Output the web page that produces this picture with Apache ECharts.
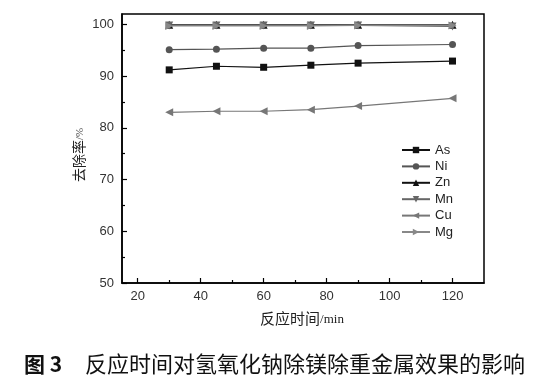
<!DOCTYPE html>
<html>
<head>
<meta charset="utf-8">
<script src="https://cdn.jsdelivr.net/npm/echarts@6/dist/echarts.min.js"></script>
<style>
html,body{margin:0;padding:0;background:#fff;}
#c{width:558px;height:381px;}
</style>
</head>
<body>
<div id="c"></div>
<script>
var times = [30, 45, 60, 75, 90, 120];
var seriesNames = ['As', 'Ni', 'Zn', 'Mn', 'Cu', 'Mg'];
var asVals = [91.2, 91.9, 91.7, 92.1, 92.5, 92.9];
var niVals = [95.1, 95.2, 95.4, 95.4, 95.9, 96.1];
var znVals = [99.9, 99.9, 99.9, 99.9, 99.9, 99.9];
var mnVals = [99.8, 99.8, 99.8, 99.8, 99.8, 99.6];
var cuVals = [83.0, 83.2, 83.2, 83.5, 84.2, 85.7];
var mgVals = [99.7, 99.7, 99.7, 99.7, 99.8, 99.8];
var xTicks = [20, 40, 60, 80, 100, 120];
var xMinorTicks = [30, 50, 70, 90, 110];
var yTicks = [50, 60, 70, 80, 90, 100];
var yMinorTicks = [55, 65, 75, 85, 95];

var allVals = [asVals, niVals, znVals, mnVals, cuVals, mgVals];
var colors = ['#111111', '#555555', '#111111', '#666666', '#777777', '#888888'];
var symbols = ['rect', 'circle', 'triangle', 'triangle', 'triangle', 'triangle'];
var rotates = [0, 0, 0, 180, 90, -90];
var sizes = [7, 7, 8, 8, 8, 8];

function pairs(vals) {
  return times.map(function (t, i) { return [t, vals[i]]; });
}

var series = seriesNames.map(function (n, i) {
  return {
    name: n,
    type: 'line',
    xAxisIndex: 0,
    yAxisIndex: 0,
    data: pairs(allVals[i]),
    symbol: symbols[i],
    symbolRotate: rotates[i],
    symbolSize: sizes[i],
    showSymbol: true,
    lineStyle: { color: colors[i], width: 1.2 },
    itemStyle: { color: colors[i] },
    emphasis: { disabled: true },
    animation: false
  };
});

var font = 'Liberation Sans, Arial, sans-serif';
var cjk = '"Noto Sans CJK SC", sans-serif';

var chart = echarts.init(document.getElementById('c'));
chart.setOption({
  animation: false,
  backgroundColor: '#fff',
  grid: { left: 122, right: 74, top: 14, bottom: 98, show: true, borderColor: '#000', borderWidth: 1.5, backgroundColor: 'transparent' },
  legend: {
    orient: 'vertical',
    left: 401,
    top: 143,
    padding: 0,
    itemWidth: 28,
    itemHeight: 8,
    itemGap: 2.4,
    textStyle: { fontFamily: font, fontSize: 13, color: '#222', lineHeight: 14 },
    data: seriesNames
  },
  xAxis: [{
    type: 'value', min: 15, max: 130, position: 'bottom',
    axisLine: { show: true, lineStyle: { color: '#000', width: 1.5 } },
    axisTick: { show: true, inside: true, length: 5, customValues: xTicks, lineStyle: { color: '#000', width: 1.2 } },
    axisLabel: { customValues: xTicks, fontFamily: font, fontSize: 13, color: '#333', margin: 7 },
    splitLine: { show: false }
  }, {
    type: 'value', min: 15, max: 130, position: 'bottom',
    axisLine: { show: false },
    axisTick: { show: true, inside: true, length: 3, customValues: xMinorTicks, lineStyle: { color: '#000', width: 1.2 } },
    axisLabel: { show: false },
    splitLine: { show: false }
  }],
  yAxis: [{
    type: 'value', min: 50, max: 102, position: 'left',
    axisLine: { show: true, lineStyle: { color: '#000', width: 1.5 } },
    axisTick: { show: true, inside: true, length: 5, customValues: yTicks, lineStyle: { color: '#000', width: 1.2 } },
    axisLabel: { customValues: yTicks, fontFamily: font, fontSize: 13, color: '#333', margin: 8 },
    splitLine: { show: false }
  }, {
    type: 'value', min: 50, max: 102, position: 'left',
    axisLine: { show: false },
    axisTick: { show: true, inside: true, length: 3, customValues: yMinorTicks, lineStyle: { color: '#000', width: 1.2 } },
    axisLabel: { show: false },
    splitLine: { show: false }
  }],
  series: series,
  graphic: [
    {
      type: 'text', x: 77, y: 155, rotation: Math.PI / 2,
      style: {
        text: '{a|去除率}{b|/%}',
        align: 'center', verticalAlign: 'middle',
        rich: {
          a: { fontFamily: cjk, fontSize: 14, fill: '#222', lineHeight: 18, verticalAlign: 'bottom' },
          b: { fontFamily: 'Liberation Serif, serif', fontSize: 11, fill: '#444', lineHeight: 18, verticalAlign: 'bottom' }
        }
      }
    },
    {
      type: 'text', x: 302, y: 316,
      style: {
        text: '{a|反应时间}{b|/min}',
        align: 'center', verticalAlign: 'middle',
        rich: {
          a: { fontFamily: cjk, fontSize: 15, fill: '#222', lineHeight: 20, verticalAlign: 'bottom' },
          b: { fontFamily: 'Liberation Serif, serif', fontSize: 13, fill: '#222', lineHeight: 20, verticalAlign: 'bottom' }
        }
      }
    },
    {
      type: 'text', x: 24, y: 364,
      style: { text: '图 3', fontFamily: cjk, fontWeight: 'bold', fontSize: 21, fill: '#111', verticalAlign: 'middle' }
    },
    {
      type: 'text', x: 85, y: 364,
      style: { text: '反应时间对氢氧化钠除镁除重金属效果的影响', fontFamily: cjk, fontSize: 22, fill: '#111', verticalAlign: 'middle' }
    }
  ]
});
</script>
</body>
</html>
